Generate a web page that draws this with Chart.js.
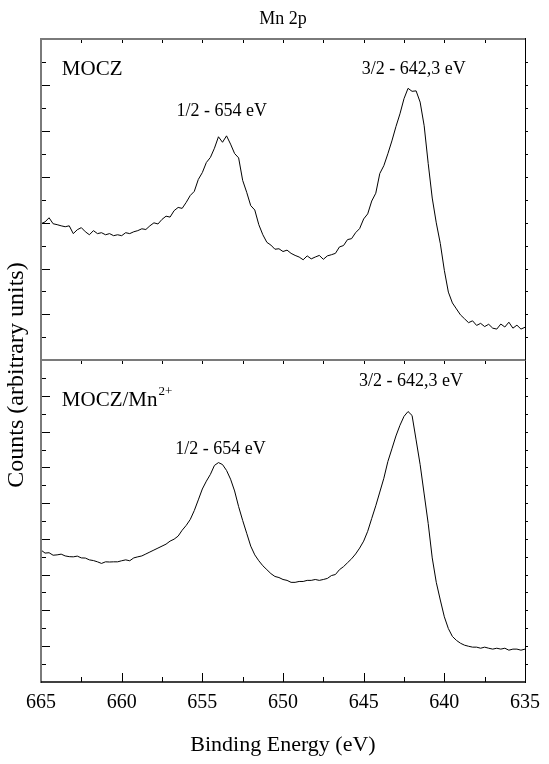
<!DOCTYPE html>
<html>
<head>
<meta charset="utf-8">
<script src="https://cdn.jsdelivr.net/npm/chart.js@4.4.1/dist/chart.umd.min.js"></script>
<style>
  html, body { margin: 0; padding: 0; background: #fff; }
  #c { display: block; }
</style>
</head>
<body>
<canvas id="c" width="549" height="764"></canvas>
<script>
// Binding energy grid (eV), 0.25 eV steps
const energy = [
  665, 664.75, 664.5, 664.25, 664, 663.75, 663.5, 663.25, 663, 662.75,
  662.5, 662.25, 662, 661.75, 661.5, 661.25, 661, 660.75, 660.5, 660.25,
  660, 659.75, 659.5, 659.25, 659, 658.75, 658.5, 658.25, 658, 657.75,
  657.5, 657.25, 657, 656.75, 656.5, 656.25, 656, 655.75, 655.5, 655.25,
  655, 654.75, 654.5, 654.25, 654, 653.75, 653.5, 653.25, 653, 652.75,
  652.5, 652.25, 652, 651.75, 651.5, 651.25, 651, 650.75, 650.5, 650.25,
  650, 649.75, 649.5, 649.25, 649, 648.75, 648.5, 648.25, 648, 647.75,
  647.5, 647.25, 647, 646.75, 646.5, 646.25, 646, 645.75, 645.5, 645.25,
  645, 644.75, 644.5, 644.25, 644, 643.75, 643.5, 643.25, 643, 642.75,
  642.5, 642.25, 642, 641.75, 641.5, 641.25, 641, 640.75, 640.5, 640.25,
  640, 639.75, 639.5, 639.25, 639, 638.75, 638.5, 638.25, 638, 637.75,
  637.5, 637.25, 637, 636.75, 636.5, 636.25, 636, 635.75, 635.5, 635.25,
  635
];

// Mn 2p counts, MOCZ (arbitrary units)
const moczCounts = [
  5.95, 6.03, 6.21, 5.95, 5.91, 5.86, 5.82, 5.86, 5.52, 5.69,
  5.78, 5.60, 5.47, 5.65, 5.52, 5.56, 5.47, 5.52, 5.43, 5.47,
  5.43, 5.56, 5.52, 5.60, 5.65, 5.73, 5.70, 5.86, 5.99, 5.94,
  6.14, 6.28, 6.24, 6.52, 6.66, 6.62, 6.88, 7.18, 7.36, 7.88,
  8.18, 8.62, 8.84, 9.24, 9.74, 9.50, 9.78, 9.42, 9.01, 8.82,
  7.84, 7.32, 6.74, 6.55, 5.91, 5.47, 5.14, 5.02, 4.84, 4.86,
  4.74, 4.80, 4.66, 4.57, 4.50, 4.38, 4.55, 4.42, 4.50, 4.57,
  4.40, 4.55, 4.60, 4.66, 4.94, 5.00, 5.26, 5.30, 5.56, 5.74,
  6.16, 6.38, 6.94, 7.28, 8.14, 8.48, 9.00, 9.56, 10.18, 10.74,
  11.40, 11.85, 11.72, 11.74, 11.25, 10.22, 8.58, 7.07, 5.99, 5.09,
  3.92, 2.97, 2.50, 2.24, 1.98, 1.81, 1.64, 1.72, 1.52, 1.61,
  1.47, 1.57, 1.40, 1.36, 1.58, 1.45, 1.66, 1.40, 1.53, 1.36,
  1.44
];

// Mn 2p counts, MOCZ/Mn2+ (arbitrary units)
const moczMnCounts = [
  7.37, 7.20, 7.22, 7.08, 7.10, 7.14, 7.04, 7.00, 6.99, 7.03,
  6.93, 6.92, 6.82, 6.78, 6.71, 6.62, 6.71, 6.70, 6.71, 6.71,
  6.77, 6.82, 6.77, 6.93, 6.99, 7.04, 7.15, 7.26, 7.37, 7.48,
  7.59, 7.70, 7.87, 7.98, 8.15, 8.48, 8.75, 9.08, 9.58, 10.18,
  10.79, 11.23, 11.61, 12.11, 12.27, 12.16, 11.83, 11.34, 10.68, 9.80,
  9.03, 8.31, 7.59, 7.10, 6.77, 6.49, 6.27, 6.05, 5.89, 5.83,
  5.72, 5.67, 5.56, 5.56, 5.61, 5.61, 5.67, 5.67, 5.72, 5.67,
  5.72, 5.78, 5.94, 6.00, 6.27, 6.44, 6.66, 6.88, 7.15, 7.48,
  7.87, 8.42, 9.14, 9.85, 10.62, 11.39, 12.33, 13.04, 13.76, 14.36,
  14.86, 15.13, 14.91, 13.54, 12.16, 10.51, 8.86, 6.93, 5.56, 4.57,
  3.63, 2.97, 2.53, 2.31, 2.15, 2.04, 1.98, 1.93, 1.93, 1.87,
  1.93, 1.87, 1.82, 1.87, 1.82, 1.87, 1.76, 1.82, 1.82, 1.76,
  1.82
];

// Axis tick values
const energyMajorTicks = [665, 660, 655, 650, 645, 640, 635];
const energyMinorTicks = [662.5, 657.5, 652.5, 647.5, 642.5, 637.5];
const moczTicks = [1, 2, 3, 4, 5, 6, 7, 8, 9, 10, 11, 12, 13];
const moczMnTicks = [1, 2, 3, 4, 5, 6, 7, 8, 9, 10, 11, 12, 13, 14, 15, 16, 17];

// Panel text: sample names and peak assignments
const panelTexts = [
  { text: 'MOCZ', sup: '', x: 663.71, y: 12.67, axis: 'yTop', size: 21, align: 'left' },
  { text: '3/2 - 642,3 eV', sup: '', x: 641.9, y: 12.67, axis: 'yTop', size: 18, align: 'center' },
  { text: '1/2 - 654 eV', sup: '', x: 653.8, y: 10.86, axis: 'yTop', size: 18, align: 'center' },
  { text: 'MOCZ/Mn', sup: '2+', x: 663.71, y: 15.74, axis: 'yBot', size: 21, align: 'left' },
  { text: '3/2 - 642,3 eV', sup: '', x: 642.07, y: 16.84, axis: 'yBot', size: 18, align: 'center' },
  { text: '1/2 - 654 eV', sup: '', x: 653.88, y: 13.04, axis: 'yBot', size: 18, align: 'center' }
];

const FONT = "'Liberation Serif', 'Times New Roman', serif";
const chartTitle = 'Mn 2p';
const yTitle = 'Counts (arbitrary units)';

function toPoints(xs, ys) {
  return xs.map((e, i) => ({ x: e, y: ys[i] }));
}

// Draws the boxed frame, the divider between the two panels, the inward tick marks and the texts
const panelFrame = {
  id: 'panelFrame',
  afterDatasetsDraw(chart) {
    const { ctx, chartArea: a, scales } = chart;
    const xs = scales.x, yT = scales.yTop, yB = scales.yBot;
    const mid = Math.round(yT.getPixelForValue(0));
    const L = Math.round(a.left), R = Math.round(a.right);
    const T = Math.round(a.top), B = Math.round(a.bottom);
    const seg = (x1, y1, x2, y2) => { ctx.beginPath(); ctx.moveTo(x1, y1); ctx.lineTo(x2, y2); ctx.stroke(); };
    ctx.save();

    // tick marks
    ctx.strokeStyle = '#000';
    ctx.lineWidth = 1;
    moczTicks.forEach(v => {
      const py = Math.round(yT.getPixelForValue(v)) + 0.5;
      const len = v % 2 === 0 ? 9 : 5;
      seg(L, py, L + len, py);
      seg(R, py, R + 3, py);
    });
    moczMnTicks.forEach(v => {
      const py = Math.round(yB.getPixelForValue(v)) + 0.5;
      const len = v % 2 === 0 ? 9 : 5;
      seg(L, py, L + len, py);
      seg(R, py, R + 3, py);
    });
    energyMajorTicks.concat(energyMinorTicks).forEach(e => {
      const px = Math.round(xs.getPixelForValue(e)) + 0.5;
      const major = energyMajorTicks.includes(e);
      if (px > L + 1 && px < R - 1) {
        seg(px, T, px, T + 4);
        seg(px, mid, px, mid + 4);
      }
      seg(px, B, px, B - (major ? 9 : 5));
    });

    // frame
    ctx.strokeStyle = '#7a7a7a';
    ctx.lineWidth = 2;
    seg(L, T, R, T);
    seg(L, mid, R, mid);
    seg(L, T - 1, L, B + 1);
    ctx.strokeStyle = '#000';
    ctx.lineWidth = 1;
    seg(R + 0.5, T - 1, R + 0.5, B + 1);
    ctx.lineWidth = 1.5;
    seg(L, B, R + 1, B);
    ctx.restore();
  },
  afterDraw(chart) {
    const { ctx, chartArea: a, scales } = chart;
    ctx.save();
    ctx.fillStyle = '#000';
    ctx.textBaseline = 'middle';

    // chart title, centred over the plot box
    ctx.font = '18px ' + FONT;
    ctx.textAlign = 'center';
    ctx.fillText(chartTitle, (a.left + a.right) / 2, 19);

    // vertical axis title
    ctx.save();
    ctx.translate(17, 375);
    ctx.rotate(-Math.PI / 2);
    ctx.font = '24px ' + FONT;
    ctx.textAlign = 'center';
    ctx.fillText(yTitle, 0, 0);
    ctx.restore();

    panelTexts.forEach(t => {
      const px = scales.x.getPixelForValue(t.x);
      const py = scales[t.axis].getPixelForValue(t.y);
      ctx.font = t.size + 'px ' + FONT;
      ctx.textAlign = t.align;
      ctx.fillText(t.text, px, py);
      if (t.sup) {
        const w = ctx.measureText(t.text).width;
        ctx.font = Math.round(t.size * 0.6) + 'px ' + FONT;
        ctx.textAlign = 'left';
        ctx.fillText(t.sup, px + w + 1, py - t.size * 0.45);
      }
    });
    ctx.restore();
  }
};

Chart.defaults.color = '#000';
Chart.defaults.font.family = FONT;

new Chart(document.getElementById('c'), {
  type: 'line',
  data: {
    datasets: [
      {
        label: 'MOCZ',
        data: toPoints(energy, moczCounts),
        yAxisID: 'yTop',
        borderColor: '#000',
        borderWidth: 1,
        pointRadius: 0,
        tension: 0,
        fill: false
      },
      {
        label: 'MOCZ/Mn2+',
        data: toPoints(energy, moczMnCounts),
        yAxisID: 'yBot',
        borderColor: '#000',
        borderWidth: 1,
        pointRadius: 0,
        tension: 0,
        fill: false
      }
    ]
  },
  options: {
    responsive: false,
    devicePixelRatio: 1,
    animation: false,
    events: [],
    layout: { padding: { left: 41, right: 18, top: 39, bottom: 0 } },
    plugins: {
      legend: { display: false },
      tooltip: { enabled: false },
      title: { display: false }
    },
    scales: {
      x: {
        type: 'linear',
        position: 'bottom',
        min: 635,
        max: 665,
        reverse: true,
        afterBuildTicks: s => { s.ticks = energyMajorTicks.map(v => ({ value: v })); },
        grid: { display: false, drawTicks: false },
        border: { display: false },
        ticks: {
          color: '#000',
          padding: 9,
          maxRotation: 0,
          autoSkip: false,
          font: { family: FONT, size: 20 },
          callback: v => String(v)
        },
        title: {
          display: true,
          text: 'Binding Energy (eV)',
          color: '#000',
          font: { family: FONT, size: 22 },
          padding: { top: 8, bottom: 6 }
        }
      },
      yTop: {
        type: 'linear',
        position: 'left',
        display: false,
        min: -14,
        max: 14
      },
      yBot: {
        type: 'linear',
        position: 'left',
        display: false,
        min: 0,
        max: 36
      }
    }
  },
  plugins: [panelFrame]
});
</script>
</body>
</html>
